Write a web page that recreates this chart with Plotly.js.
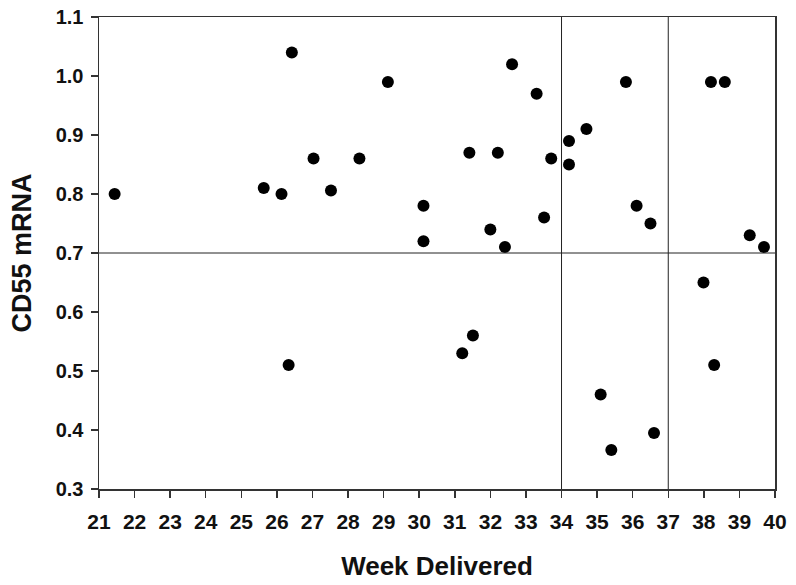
<!DOCTYPE html>
<html>
<head>
<meta charset="utf-8">
<script src="https://cdn.plot.ly/plotly-3.0.1.min.js"></script>
<style>html,body{margin:0;padding:0;background:#fff;}#chart{width:796px;height:585px;}</style>
</head>
<body>
<div id="chart"></div>
<script>
const weeks = [21.44, 26.42, 29.12, 25.63, 26.13, 27.03, 28.32, 27.52, 30.12, 30.12,
  32.61, 33.30, 35.81, 38.20, 38.59, 34.70, 34.21, 34.21, 31.41, 32.21, 33.71, 36.11,
  36.50, 33.51, 32.00, 32.41, 39.29, 39.69, 26.33, 31.51, 31.21, 37.99, 38.29, 35.10,
  36.60, 35.40];
const cd55 = [0.80, 1.04, 0.99, 0.81, 0.80, 0.86, 0.86, 0.806, 0.78, 0.72,
  1.02, 0.97, 0.99, 0.99, 0.99, 0.91, 0.89, 0.85, 0.87, 0.87, 0.86, 0.78,
  0.75, 0.76, 0.74, 0.71, 0.73, 0.71, 0.51, 0.56, 0.53, 0.65, 0.51, 0.46,
  0.395, 0.366];
const xTicks = [21,22,23,24,25,26,27,28,29,30,31,32,33,34,35,36,37,38,39,40];
const yTicks = [0.3,0.4,0.5,0.6,0.7,0.8,0.9,1.0,1.1];
const yTickLabels = ["0.3","0.4","0.5","0.6","0.7","0.8","0.9","1.0","1.1"];
const vLines = [34, 37];
const hLine = 0.7;

const font = "Liberation Sans, Arial, sans-serif";
const shapes = vLines.map(v => ({type:"line", xref:"x", yref:"paper", x0:v, x1:v, y0:0, y1:1, line:{color:"#222", width:1}}));
shapes.push({type:"line", xref:"paper", yref:"y", x0:0, x1:1, y0:hLine, y1:hLine, line:{color:"#222", width:1}});

Plotly.newPlot("chart", [{
  x: weeks, y: cd55, type: "scatter", mode: "markers",
  marker: {color: "#000", size: 12}
}], {
  width: 796, height: 585,
  margin: {l: 99, r: 21, t: 17, b: 96},
  paper_bgcolor: "#fff", plot_bgcolor: "#fff",
  showlegend: false,
  font: {family: font, color: "#111"},
  xaxis: {
    range: [21, 40], tickvals: xTicks, ticktext: xTicks.map(t => "<b>" + t + "</b>"),
    showgrid: false, zeroline: false, showline: true, mirror: true,
    linecolor: "#333", linewidth: 1.5, ticks: "outside", ticklen: 7, tickcolor: "#333", tickwidth: 1.5,
    ticklabelstandoff: 6,
    tickfont: {size: 21, family: font, color: "#111"},
    title: {text: "<b>Week Delivered</b>", font: {size: 26, family: font, color: "#111"}, standoff: 25}
  },
  yaxis: {
    range: [0.3, 1.1], tickvals: yTicks, ticktext: yTickLabels.map(t => "<b>" + t + "</b>"),
    showgrid: false, zeroline: false, showline: true, mirror: true,
    linecolor: "#333", linewidth: 1.5, ticks: "outside", ticklen: 7, tickcolor: "#333", tickwidth: 1.5,
    ticklabelstandoff: 3,
    tickfont: {size: 20, family: font, color: "#111"},
    title: {text: "<b>CD55 mRNA</b>", font: {size: 27, family: font, color: "#111"}, standoff: 16}
  },
  shapes: shapes
}, {displayModeBar: false, staticPlot: true});
</script>
</body>
</html>
